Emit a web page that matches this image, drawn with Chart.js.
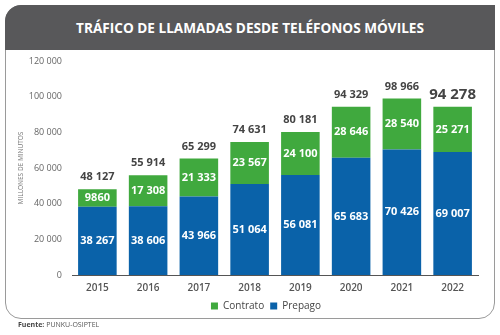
<!DOCTYPE html>
<html>
<head>
<meta charset="utf-8">
<script src="https://cdn.jsdelivr.net/npm/chart.js@4.4.1/dist/chart.umd.min.js"></script>
<style>
  body { margin: 0; background: #fff; font-family: "Open Sans", sans-serif; }
  #wrap { position: relative; width: 500px; height: 335px; overflow: hidden; }
  #panel { position: absolute; left: 5px; top: 5px; width: 488px; height: 312px;
           border: 1px solid #9a9a9a; border-radius: 16px 0 16px 16px; }
  #head { position: absolute; left: 5px; top: 5px; width: 490px; height: 45px;
          background: #58585a; border-top-left-radius: 16px;
          color: #fff; font-weight: 700; font-size: 13.6px; line-height: 45px; text-align: center; }
  #src { position: absolute; left: 18px; top: 320px; font-size: 7px; color: #555; }
  #src b { color: #444; }
  #cv { position: absolute; left: 0; top: 0; }
</style>
</head>
<body>
<div id="wrap">
  <div id="panel"></div>
  <div id="head">TRÁFICO DE LLAMADAS DESDE TELÉFONOS MÓVILES</div>
  <canvas id="cv" width="500" height="335"></canvas>
  <div id="src"><b>Fuente:</b> PUNKU-OSIPTEL</div>
</div>
<script>
const years = ['2015', '2016', '2017', '2018', '2019', '2020', '2021', '2022'];
const prepago = [38267, 38606, 43966, 51064, 56081, 65683, 70426, 69007];
const contrato = [9860, 17308, 21333, 23567, 24100, 28646, 28540, 25271];
const totales = [48127, 55914, 65299, 74631, 80181, 94329, 98966, 94278];
const yTicks = [0, 20000, 40000, 60000, 80000, 100000, 120000];

// espacio como separador de miles (solo desde 5 cifras)
function fmt(n) {
  if (n < 10000) return String(n);
  return String(n).replace(/\B(?=(\d{3})+(?!\d))/g, ' ');
}

// etiquetas dentro de las barras y totales arriba
const labelsPlugin = {
  id: 'barLabels',
  afterLayout(chart) {
    // la leyenda va un poco a la izquierda del centro del area
    chart.legend.left -= 9;
    chart.legend.right -= 9;
  },
  afterDatasetsDraw(chart) {
    const ctx = chart.ctx;
    ctx.save();
    ctx.textAlign = 'center';
    ctx.textBaseline = 'middle';
    chart.data.datasets.forEach((ds, di) => {
      const meta = chart.getDatasetMeta(di);
      meta.data.forEach((bar, i) => {
        ctx.fillStyle = '#fff';
        ctx.font = '700 11px "Open Sans"';
        ctx.fillText(fmt(ds.data[i]), bar.x, (bar.y + bar.base) / 2);
      });
    });
    const top = chart.getDatasetMeta(1);
    top.data.forEach((bar, i) => {
      const last = i === totales.length - 1;
      ctx.fillStyle = '#444';
      ctx.font = last ? '700 15px "Open Sans"' : '700 11px "Open Sans"';
      ctx.fillText(fmt(totales[i]), bar.x, bar.y - 12);
    });
    ctx.restore();
  }
};

new Chart(document.getElementById('cv'), {
  type: 'bar',
  data: {
    labels: years,
    datasets: [{
      label: 'Prepago',
      data: prepago,
      backgroundColor: '#0a62a9',
      barPercentage: 0.76,
      categoryPercentage: 1
    }, {
      label: 'Contrato',
      data: contrato,
      backgroundColor: '#40a93e',
      barPercentage: 0.76,
      categoryPercentage: 1
    }]
  },
  options: {
    responsive: false,
    animation: false,
    layout: { padding: { left: 17, right: 22, top: 61, bottom: 14 } },
    scales: {
      x: {
        stacked: true,
        grid: { display: false, drawTicks: false },
        border: { display: true, color: '#555', width: 1 },
        ticks: { color: '#555', font: { family: 'Open Sans', size: 10, weight: 600 }, padding: 7 },
        afterFit(s) { s.height = 20; }
      },
      y: {
        stacked: true,
        min: 0,
        max: 120000,
        grid: { display: false, drawTicks: false },
        border: { display: false },
        afterBuildTicks(s) { s.ticks = yTicks.map(v => ({ value: v })); },
        afterFit(s) { s.width = 55; },
        ticks: {
          color: '#666',
          padding: 10,
          font: { family: 'Open Sans', size: 9 },
          callback: v => fmt(v)
        },
        title: {
          display: true,
          text: 'MILLONES DE MINUTOS',
          color: '#777',
          font: { family: 'Open Sans', size: 6.5 },
          padding: { top: 0, bottom: 0 }
        }
      }
    },
    plugins: {
      tooltip: { enabled: false },
      legend: {
        position: 'bottom',
        fullSize: false,
        reverse: true,
        labels: {
          boxWidth: 7,
          boxHeight: 7,
          padding: 6,
          color: '#444',
          font: { family: 'Open Sans', size: 10 }
        }
      }
    }
  },
  plugins: [labelsPlugin]
});
</script>
</body>
</html>
